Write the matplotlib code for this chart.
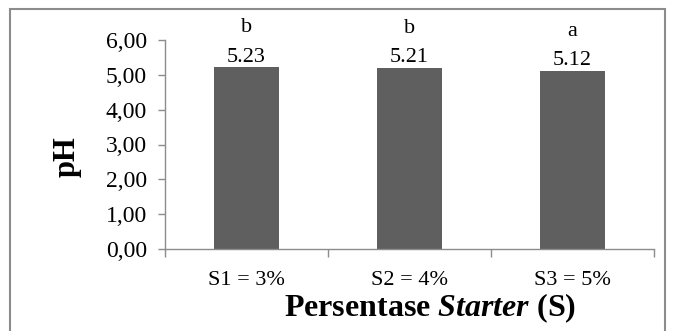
import matplotlib.pyplot as plt
import matplotlib.patches as mpatches

categories = ['S1 = 3%', 'S2 = 4%', 'S3 = 5%']
ph_values = [5.23, 5.21, 5.12]
value_labels = ['5.23', '5.21', '5.12']
letters = ['b', 'b', 'a']
y_ticks = [0, 1, 2, 3, 4, 5, 6]

plt.rcParams['font.family'] = ['Liberation Serif', 'DejaVu Serif']
plt.rcParams['mathtext.fontset'] = 'custom'
plt.rcParams['mathtext.rm'] = 'Liberation Serif'
plt.rcParams['mathtext.bfit'] = 'Liberation Serif:italic:bold'

fig = plt.figure(figsize=(6.74, 3.31), dpi=100)
ax = fig.add_axes([165 / 674, 1 - 249 / 331, (654 - 165) / 674, 209 / 331])

# Chart border (bottom edge is cut off in the reference)
border = mpatches.Rectangle((10 / 674, -0.1), (665 - 10) / 674, 1.1 - 9 / 331,
                            transform=fig.transFigure, fill=False,
                            edgecolor='#8c8c8c', linewidth=1.5)
fig.patches.append(border)

x = list(range(len(categories)))
bars = ax.bar(x, ph_values, width=0.4, color='#5f5f5f', edgecolor='none')

for xi, v, lab, let in zip(x, ph_values, value_labels, letters):
    ax.annotate(lab, (xi, v), xytext=(0, 7), textcoords='offset points',
                ha='center', va='center', fontsize=16)
    ax.annotate(let, (xi, v), xytext=(0, 28), textcoords='offset points',
                ha='center', va='center', fontsize=16)

ax.set_xlim(-0.5, 2.5)
ax.set_ylim(0, 6)
ax.set_yticks(y_ticks)
ax.set_yticklabels(['%d,00' % t for t in y_ticks], fontsize=17)
ax.set_xticks(x)
ax.set_xticklabels(categories, fontsize=16)
ax.set_xticks([-0.5, 0.5, 1.5, 2.5], minor=True)
ax.tick_params(axis='x', which='major', length=0, pad=16)
ax.tick_params(axis='x', which='minor', length=6, color='#8c8c8c', width=1)
ax.tick_params(axis='y', length=5, color='#8c8c8c', width=1, pad=8)

for side in ['top', 'right']:
    ax.spines[side].set_visible(False)
for side in ['left', 'bottom']:
    ax.spines[side].set_color('#8c8c8c')
    ax.spines[side].set_linewidth(1)

ax.set_ylabel('pH', fontsize=22, fontweight='bold', va='center')
ax.yaxis.set_label_coords((67 - 165) / 489, (249 - 157) / 209)
ax.set_xlabel('Persentase $\\mathbfit{Starter}$ (S)', fontsize=23,
              fontweight='bold', va='center')
ax.xaxis.set_label_coords((430 - 165) / 489, -(308 - 249) / 209)

fig.savefig('out.png', dpi=100)
